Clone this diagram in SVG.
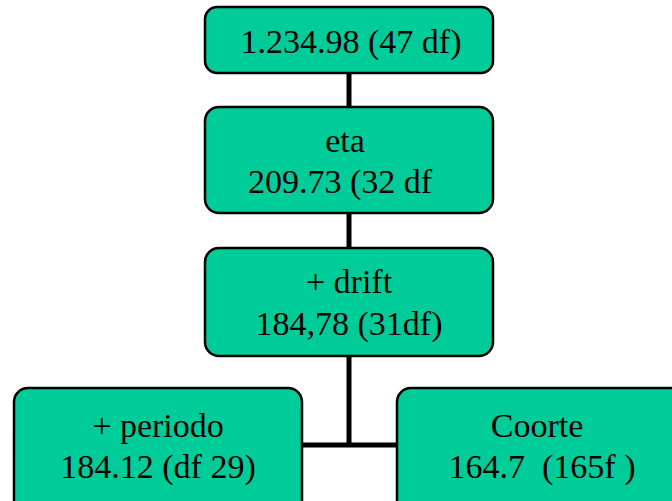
<svg xmlns="http://www.w3.org/2000/svg" width="672" height="501" viewBox="0 0 672 501">
<style>
.box{fill:#00CC99;stroke:#000;stroke-width:2.5}
.t{font-family:"Liberation Serif","Times New Roman",serif;font-size:34px;fill:#000;text-anchor:middle}
.c{stroke:#000;stroke-width:5;fill:none}
</style>
<rect width="672" height="501" fill="#fff"/>
<g id="connectors">
<line class="c" x1="349" y1="73" x2="349" y2="108"/>
<line class="c" x1="349" y1="213" x2="349" y2="248"/>
<line class="c" x1="349" y1="356" x2="349" y2="445"/>
<line class="c" x1="302" y1="445" x2="397" y2="445"/>
</g>
<g id="n0">
<rect class="box" x="205" y="7" width="288" height="66" rx="12"/>
<text class="t" x="351" y="53">1.234.98 (47 df)</text>
</g>
<g id="n1">
<rect class="box" x="205" y="107" width="288" height="106" rx="14"/>
<text class="t" x="345" y="152">eta</text>
<text class="t" x="340" y="193">209.73 (32 df</text>
</g>
<g id="n2">
<rect class="box" x="205" y="248" width="288" height="108" rx="14"/>
<text class="t" x="349" y="293">+ drift</text>
<text class="t" x="349" y="335">184,78 (31df)</text>
</g>
<g id="n3">
<rect class="box" x="14" y="388" width="288" height="130" rx="14"/>
<text class="t" x="158" y="437">+ periodo</text>
<text class="t" x="158" y="478">184.12 (df 29)</text>
</g>
<g id="n4">
<rect class="box" x="397" y="388" width="288" height="130" rx="14"/>
<text class="t" x="537" y="437">Coorte</text>
<text class="t" x="542" y="478" xml:space="preserve">164.7  (165f )</text>
</g>
</svg>
